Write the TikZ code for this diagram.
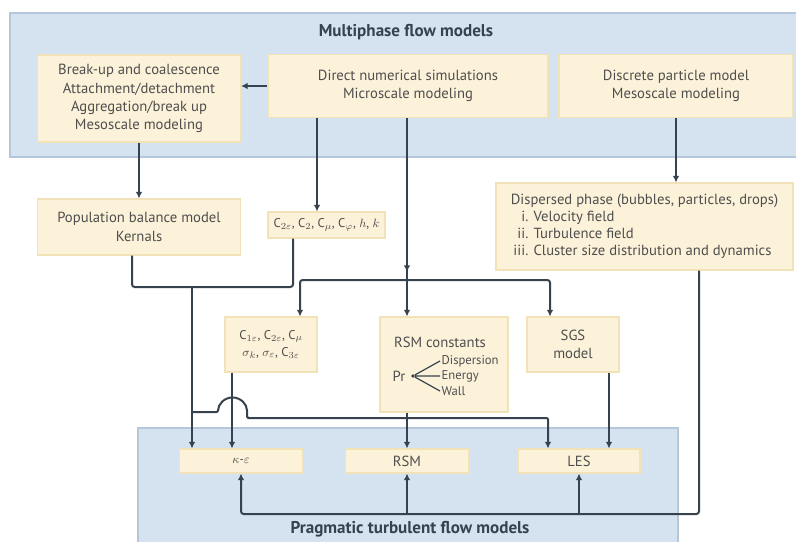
\documentclass[tikz,border=0pt]{standalone}
\usepackage{fontspec}
\setmainfont{PT Sans}
\usetikzlibrary{arrows.meta,calc}

\definecolor{panelblue}{HTML}{D5E2F0}
\definecolor{panelline}{HTML}{B4C7DB}
\definecolor{boxfill}{HTML}{FCF2D9}
\definecolor{boxline}{HTML}{F1E2B8}
\definecolor{wirecol}{HTML}{36424E}
\definecolor{ink}{HTML}{4E4E4E}

\tikzset{
	panel/.style={fill=panelblue, draw=panelline, line width=0.8pt},
	model/.style={fill=boxfill, draw=boxline, line width=0.8pt, inner sep=2pt, align=center, text=ink, font=\fontsize{11}{13.7}\selectfont},
	txt/.style={inner sep=1pt, text=ink, font=\fontsize{11}{13.7}\selectfont},
	smalltxt/.style={inner sep=1pt, text=ink, font=\fontsize{9.5}{11}\selectfont},
	heading/.style={font=\bfseries\fontsize{12.8}{15}\selectfont, text=wirecol},
	wire/.style={draw=wirecol, line width=1.5pt},
	flow/.style={wire, -{Latex[length=5pt,width=5pt]}},
	fork/.style={circle, fill=wirecol, inner sep=0pt, minimum size=2.8pt}
}

\begin{document}
\begin{tikzpicture}[x=0.75pt, y=-0.75pt]
	\useasboundingbox (0,0) rectangle (796,542);
	\clip (0,0) rectangle (796,542);
	\fill[white] (0,0) rectangle (796,542);
	% the two model families
	\draw[panel] (10,13) rectangle (810,157);
	\draw[panel] (138,428) rectangle (678,560);
	\node[heading] (topHead) at (406,32) {Multiphase flow models};
	\node[heading] (lowHead) at (410,529) {Pragmatic turbulent flow models};

	\node[model, minimum width=152.25pt, minimum height=65.25pt] (breakup) at (139,98.5) {Break-up and coalescence\\Attachment/detachment\\Aggregation/break up\\Mesoscale modeling};
	\node[model, minimum width=210pt, minimum height=47.25pt] (dns) at (408,86) {Direct numerical simulations\\Microscale modeling};
	\node[model, minimum width=175.5pt, minimum height=47.25pt] (dpm) at (676,86) {Discrete particle model\\Mesoscale modeling};
	\node[model, minimum width=152.25pt, minimum height=42pt] (pbm) at (139,227) {Population balance model\\Kernals};
	\node[model, minimum width=87.75pt, minimum height=19.5pt, font=\fontsize{9.5}{11}\selectfont] (consts) at (326.5,225) {C$_{2\varepsilon}$, C$_{2}$, C$_{\mu}$, C$_{\varphi}$, $h$, $k$};
	\node[model, minimum width=222.75pt, minimum height=65.25pt, align=left, font=\fontsize{11}{12.6}\selectfont] (disp) at (644.5,226.5) {\begin{tabular}{@{\hspace{2pt}}r@{ }l@{}}\multicolumn{2}{@{}l@{}}{Dispersed phase (bubbles, particles, drops)}\\i. & Velocity field\\ii. & Turbulence field\\iii. & Cluster size distribution and dynamics\end{tabular}};

	\node[model, minimum width=69pt, minimum height=41.25pt, font=\fontsize{9.5}{13}\selectfont] (kecon) at (271,344.5) {C$_{1\varepsilon}$, C$_{2\varepsilon}$, C$_{\mu}$\\$\sigma_{k}$, $\sigma_{\varepsilon}$, C$_{3\varepsilon}$};
	\node[model, minimum width=96pt, minimum height=71.25pt] (rsmcon) at (444,364.5) {};
	\node[txt] (rsmlabel) at (440,342) {RSM constants};
	\node[txt] (pr) at (399,376) {Pr};
	\node[fork] (prfork) at (413,376) {};
	\node[smalltxt, anchor=west] (dispLab) at (440,361) {Dispersion};
	\node[smalltxt, anchor=west] (enLab) at (440,376) {Energy};
	\node[smalltxt, anchor=west] (wallLab) at (440,391) {Wall};
	\draw[draw=wirecol, line width=0.9pt] (prfork) -- (dispLab.west) (prfork) -- (enLab.west) (prfork) -- (wallLab.west);
	\node[model, minimum width=69pt, minimum height=41.25pt] (sgs) at (573,344.5) {SGS\\model};

	\node[model, minimum width=92.25pt, minimum height=18pt, font=\fontsize{9}{11}\selectfont] (ke) at (241,461) {$\kappa$-$\varepsilon$};
	\node[model, minimum width=92.25pt, minimum height=18pt] (rsm) at (407,461) {RSM};
	\node[model, minimum width=91.5pt, minimum height=18pt] (les) at (579,461) {LES};

	\coordinate (split) at (407,280);
	\coordinate (merge) at (192,287);

	% upper connectors
	\draw[flow] (dns.west) -- (dns.west -| breakup.east);
	\draw[flow] (breakup.south) -- (pbm.north);
	\draw[flow] (dns.south -| 317,0) -- (consts.north -| 317,0);
	\draw[flow] (dns.south -| split) -- ($(split)+(0,-8)$);
	\draw[wire] ($(split)+(0,-10)$) -- (split);
	\draw[flow, rounded corners=2pt] (split) -| (kecon.north -| 300,0);
	\draw[flow, rounded corners=2pt] (split) -| (sgs.north -| 550,0);
	\draw[flow] (split) -- (rsmcon.north -| split);
	\draw[flow] (dpm.south) -- (disp.north -| dpm.south);
	\draw[wire, rounded corners=2pt] (pbm.south -| 132,0) |- (merge) -| (consts.south -| 293,0);

	% lower connectors
	\draw[flow] (merge) -- (ke.north -| merge);
	\draw[flow, rounded corners=1pt] (merge |- 0,412) -- (218,412) arc[start angle=180, end angle=0, radius=10.9pt] -- (247,418) -| (les.north -| 548,0);
	\draw[flow] (kecon.south -| 232,0) -- (ke.north -| 232,0);
	\draw[flow] (rsmcon.south -| 407,0) -- (rsm.north);
	\draw[flow] (sgs.south -| 609,0) -- (les.north -| 609,0);
	\draw[flow, rounded corners=2pt] (disp.south -| 699,0) |- (ke.south |- 0,514) -- (ke.south);
	\draw[flow] (rsm.south |- 0,514) -- (rsm.south);
	\draw[flow] (les.south |- 0,514) -- (les.south);
\end{tikzpicture}
\end{document}
